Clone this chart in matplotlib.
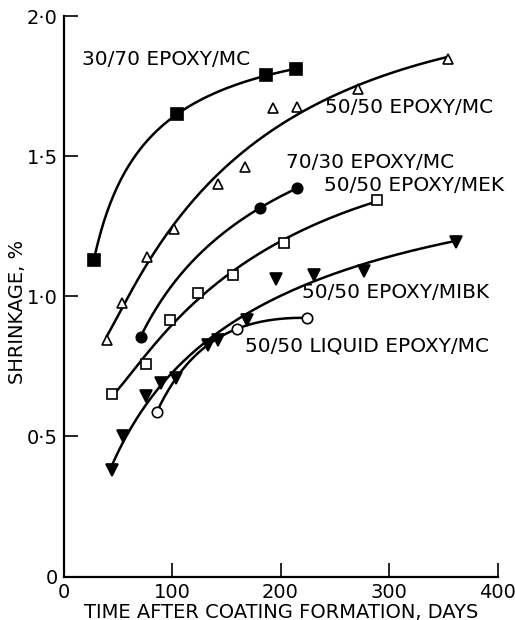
import numpy as np
import matplotlib
matplotlib.use("Agg")
import matplotlib.pyplot as plt

plt.rcParams['font.family'] = ['DejaVu Sans']

# Shrinkage (%) versus time after coating formation (days)
days_3070_mc = [28, 105, 187, 214]
shr_3070_mc = [1.13, 1.65, 1.79, 1.81]

days_5050_mc = [40, 54, 77, 102, 142, 167, 193, 215, 271, 354]
shr_5050_mc = [0.845, 0.975, 1.14, 1.24, 1.40, 1.46, 1.67, 1.675, 1.74, 1.845]

days_7030_mc = [71, 181, 215]
shr_7030_mc = [0.855, 1.315, 1.385]

days_5050_mek = [45, 76, 98, 124, 156, 203, 289]
shr_5050_mek = [0.65, 0.76, 0.915, 1.01, 1.075, 1.19, 1.345]

days_5050_mibk = [45, 55, 76, 90, 104, 133, 142, 169, 196, 231, 277, 362]
shr_5050_mibk = [0.38, 0.50, 0.645, 0.69, 0.71, 0.825, 0.845, 0.915, 1.06, 1.075, 1.09, 1.195]

days_liquid_mc = [86, 160, 224]
shr_liquid_mc = [0.587, 0.884, 0.923]

labels = ["30/70 EPOXY/MC", "50/50 EPOXY/MC", "70/30 EPOXY/MC",
          "50/50 EPOXY/MEK", "50/50 EPOXY/MIBK", "50/50 LIQUID EPOXY/MC"]

x_ticks = [0, 100, 200, 300, 400]
y_ticks = [0, 0.5, 1.0, 1.5, 2.0]
y_tick_labels = ["0", "0·5", "1·0", "1·5", "2·0"]

# (days, shrinkage, marker style, degree of the ln(days) trend polynomial)
series = [
    (days_3070_mc, shr_3070_mc, dict(marker='s', mfc='black', ms=8), 2),
    (days_5050_mc, shr_5050_mc, dict(marker='^', mfc='white', ms=7.5), 3),
    (days_7030_mc, shr_7030_mc, dict(marker='o', mfc='black', ms=7.5), 2),
    (days_5050_mek, shr_5050_mek, dict(marker='s', mfc='white', ms=7.5), 3),
    (days_5050_mibk, shr_5050_mibk, dict(marker='v', mfc='black', ms=8), 3),
    (days_liquid_mc, shr_liquid_mc, dict(marker='o', mfc='white', ms=7.5), 2),
]

# label anchors (left edge, vertical centre) in data units
label_pos = [(17.5, 1.845), (241, 1.673), (205, 1.476),
             (240, 1.395), (220, 1.012), (167, 0.823)]


def trend(x, y, deg):
    """Smooth least-squares curve, polynomial in ln(days)."""
    x = np.asarray(x, float)
    y = np.asarray(y, float)
    coef = np.polyfit(np.log(x), y, deg)
    xs = np.linspace(x.min(), x.max(), 200)
    return xs, np.polyval(coef, np.log(xs))


fig = plt.figure(figsize=(5.15, 6.2), dpi=100)
ax = fig.add_axes([63.5 / 515, 43.5 / 620, 434 / 515, 560.5 / 620])

for (x, y, style, deg), text, (tx, ty) in zip(series, labels, label_pos):
    xs, ys = trend(x, y, deg)
    ax.plot(xs, ys, color='black', lw=1.8, zorder=2)
    ax.plot(x, y, ls='none', mec='black', mew=1.2, zorder=3, clip_on=False, **style)
    ax.text(tx, ty, text, ha='left', va='center', fontsize=14.5)

ax.set_xlim(0, 400)
ax.set_ylim(0, 2.0)
ax.set_xticks(x_ticks)
ax.set_xticklabels([str(v) for v in x_ticks])
ax.set_yticks(y_ticks)
ax.set_yticklabels(y_tick_labels)

for side in ('top', 'right'):
    ax.spines[side].set_visible(False)
for side in ('left', 'bottom'):
    ax.spines[side].set_linewidth(1.6)

ax.tick_params(axis='both', direction='in', length=10, width=1.2, labelsize=14)
ax.tick_params(axis='y', pad=4)
ax.tick_params(axis='x', pad=5)

fig.text(18 / 515, (620 - 312) / 620, "SHRINKAGE, %", rotation=90,
         ha='center', va='center', fontsize=14)
fig.text(281.5 / 515, 8 / 620, "TIME AFTER COATING FORMATION, DAYS",
         ha='center', va='center', fontsize=14)

fig.savefig("out.png", dpi=100)
